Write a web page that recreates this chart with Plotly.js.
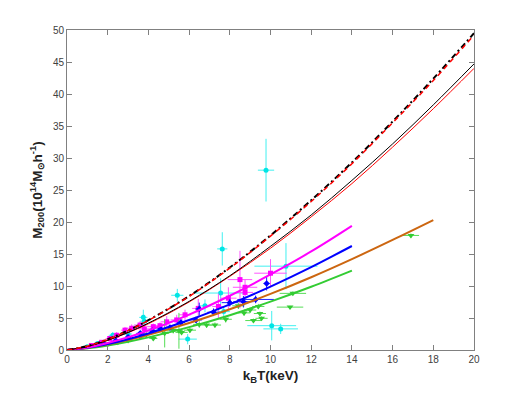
<!DOCTYPE html>
<html>
<head>
<meta charset="utf-8">
<script src="https://cdn.plot.ly/plotly-3.0.1.min.js"></script>
<style>
  html, body { margin: 0; padding: 0; background: #fff; }
  #plot { width: 523px; height: 393px; }
</style>
</head>
<body>
<div id="plot"></div>
<script>
// model curves
const tFull = [0, 1, 2, 3, 4, 6, 8, 10, 12, 14, 16, 18, 20];
const dashBlack = [0, 0.61, 1.68, 3.04, 4.65, 8.43, 12.9, 17.9, 23.4, 29.3, 35.7, 42.4, 49.5];
const dashRed = [0, 0.60, 1.67, 3.02, 4.62, 8.38, 12.8, 17.8, 23.2, 29.1, 35.5, 42.1, 49.2];
const solidBlack = [0, 0.55, 1.52, 2.75, 4.2, 7.6, 11.6, 16.2, 21.1, 26.5, 32.2, 38.3, 44.7];
const solidRed = [0, 0.54, 1.50, 2.71, 4.1, 7.5, 11.5, 15.9, 20.8, 26.0, 31.7, 37.7, 44.0];

const t14 = [0, 1, 2, 3, 4, 6, 8, 10, 12, 14];
const magentaFit = [0, 0.39, 1.09, 1.98, 3.04, 5.53, 8.48, 11.8, 15.4, 19.4];
const blueFit = [0, 0.34, 0.93, 1.69, 2.58, 4.68, 7.14, 9.91, 12.95, 16.25];
const greenFit = [0, 0.26, 0.71, 1.29, 1.97, 3.57, 5.44, 7.56, 9.88, 12.4];

const t18 = [0, 1, 2, 3, 4, 6, 8, 10, 12, 14, 16, 18];
const orangeFit = [0, 0.33, 0.88, 1.57, 2.36, 4.22, 6.37, 8.76, 11.37, 14.2, 17.2, 20.3];

// cluster samples (T, M200, errors)
const cyanT = [9.78, 7.63, 5.42, 5.93, 10.76, 10.06, 10.5, 7.55, 6.78, 3.75, 4.16, 2.25, 3.0, 1.5, 1.0, 7.7, 3.8];
const cyanM = [28.1, 15.8, 8.55, 1.7, 13.1, 3.8, 3.3, 8.9, 6.9, 5.1, 3.1, 2.3, 2.5, 1.0, 0.5, 6.0, 4.5];
const cyanEx = [0.4, 0.25, 0.3, 0.45, 1.55, 1.2, 0.85, 1.3, 0.3, 0.2, 0.3, 0.2, 0.2, 0.15, 0.1, 0.3, 0.2];
const cyanEy = [4.9, 2.6, 1.0, 0.8, 3.6, 2.3, 0.8, 2.3, 1.0, 1.2, 0.6, 0.5, 0.6, 0.3, 0.2, 0.8, 1.0];

const magT = [8.5, 8.75, 8.75, 10.0, 7.93, 7.44, 6.45, 5.39, 4.9, 4.57, 4.24, 3.59, 3.18, 2.85, 2.44, 1.7, 1.2, 2.1, 3.8, 5.8];
const magM = [11.0, 9.8, 9.0, 12.0, 8.1, 6.8, 6.5, 4.7, 4.4, 3.8, 3.65, 3.9, 3.4, 3.1, 2.3, 1.2, 0.7, 1.8, 3.3, 5.5];
const magEx = [0.6, 0.6, 0.4, 0.8, 0.4, 0.3, 0.3, 0.3, 0.3, 0.3, 0.3, 0.3, 0.3, 0.2, 0.2, 0.15, 0.1, 0.2, 0.3, 0.3];
const magEy = [4.5, 1.2, 0.8, 2.2, 1.7, 2.0, 1.5, 0.8, 0.9, 0.5, 0.5, 0.6, 0.6, 0.5, 0.5, 0.3, 0.2, 0.4, 0.6, 0.8];

const blueT = [9.81, 8.0, 8.67, 9.27, 6.5, 6.34, 5.06, 4.2, 3.6, 3.0, 2.4, 1.8, 4.6, 5.6, 7.2];
const blueM = [10.4, 7.4, 7.55, 7.9, 6.4, 4.7, 3.5, 3.0, 2.6, 2.0, 1.5, 1.0, 3.3, 4.3, 5.9];
const blueEx = [0.15, 0.4, 0.5, 0.9, 0.2, 0.3, 0.2, 0.2, 0.2, 0.15, 0.15, 0.1, 0.2, 0.2, 0.3];
const blueEy = [1.1, 0.6, 0.9, 0.6, 1.0, 0.5, 0.4, 0.4, 0.3, 0.3, 0.2, 0.2, 0.4, 0.5, 0.6];

const greenT = [11.1, 10.96, 8.42, 9.0, 8.7, 9.4, 9.16, 9.48, 9.56, 16.9, 7.27, 6.86, 6.04, 5.63, 5.22, 4.24, 4.8, 3.6, 3.0, 2.5, 2.0, 7.8, 6.5, 3.9, 5.5];
const greenM = [8.85, 6.7, 6.9, 6.25, 5.8, 6.8, 4.6, 5.7, 4.95, 17.9, 3.9, 3.9, 3.1, 2.75, 3.1, 1.8, 2.6, 2.0, 1.5, 1.2, 0.9, 4.8, 4.0, 2.4, 3.0];
const greenEx = [0.65, 0.65, 0.3, 0.3, 0.3, 0.3, 0.4, 0.3, 0.3, 0.4, 0.3, 0.3, 0.3, 0.3, 0.3, 0.2, 0.2, 0.2, 0.2, 0.15, 0.15, 0.3, 0.3, 0.2, 0.2];
const greenEy = [0.3, 0.2, 0.5, 0.4, 0.4, 0.4, 0.3, 0.3, 0.3, 0.3, 0.4, 0.4, 0.4, 0.4, 0.5, 0.3, 2.2, 0.3, 0.3, 0.2, 0.2, 0.5, 0.5, 0.4, 2.8];

function points(x, y, ex, ey, color, barColor, symbol, size) {
  return {
    x: x, y: y, type: "scatter", mode: "markers",
    marker: { color: color, symbol: symbol, size: size },
    error_x: { type: "data", array: ex, color: barColor, thickness: 1, width: 0 },
    error_y: { type: "data", array: ey, color: barColor, thickness: 1, width: 0 },
    hoverinfo: "x+y"
  };
}

function curve(x, y, color, width, dash) {
  return {
    x: x, y: y, type: "scatter", mode: "lines",
    line: { color: color, width: width, dash: dash, shape: "spline" }
  };
}

const traces = [
  points(cyanT, cyanM, cyanEx, cyanEy, "#00e5e5", "#40f0f0", "circle", 5),
  points(magT, magM, magEx, magEy, "#ff00ff", "#ff55ff", "square", 5),
  points(greenT, greenM, greenEx, greenEy, "#33cc33", "#55dd55", "triangle-down", 6),
  points(blueT, blueM, blueEx, blueEy, "#0000ff", "#2222ff", "diamond", 5),
  curve(t14, greenFit, "#33cc33", 2, "solid"),
  curve(t18, orangeFit, "#cc6610", 2, "solid"),
  curve(t14, blueFit, "#0000ff", 2, "solid"),
  curve(t14, magentaFit, "#ff00ff", 2, "solid"),
  curve(tFull, solidRed, "#ff0000", 1, "solid"),
  curve(tFull, solidBlack, "#000000", 1, "solid"),
  curve(tFull, dashBlack, "#000000", 2, "6px,3px,2px,3px"),
  curve(tFull, dashRed, "#ff0000", 1.5, "5px,4px")
];

const titleFont = { family: "Liberation Sans, Arial, sans-serif", size: 13.5, color: "#222" };

const axisCommon = {
  showline: true, linecolor: "#808080", linewidth: 1, mirror: "ticks",
  ticks: "inside", ticklen: 5, tickcolor: "#808080",
  showgrid: false, zeroline: false,
  tickfont: { family: "Liberation Sans, Arial, sans-serif", size: 10, color: "#404040" }
};

const layout = {
  width: 523, height: 393,
  margin: { l: 67, r: 49, t: 30, b: 43 },
  paper_bgcolor: "#fff", plot_bgcolor: "#fff",
  showlegend: false,
  xaxis: Object.assign({}, axisCommon, {
    range: [0, 20], dtick: 2, tick0: 0,
    title: { text: "<b>k<sub>B</sub>T(keV)</b>", font: titleFont, standoff: 6 }
  }),
  yaxis: Object.assign({}, axisCommon, {
    range: [0, 50], dtick: 5, tick0: 0,
    title: { text: "<b>M<sub>200</sub>(10<sup>14</sup>M<sub>⊙</sub>h<sup>-1</sup>)</b>", font: titleFont, standoff: 7 }
  })
};

Plotly.newPlot("plot", traces, layout, { displayModeBar: false, staticPlot: true });
</script>
</body>
</html>
